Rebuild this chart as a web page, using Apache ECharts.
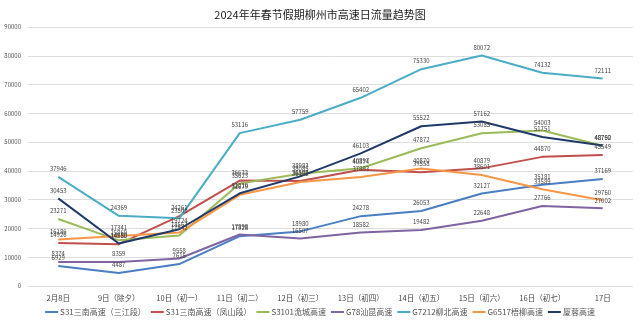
<!DOCTYPE html>
<html>
<head>
<meta charset="utf-8">
<script src="https://cdn.jsdelivr.net/npm/echarts@6/dist/echarts.min.js"></script>
<style>
html,body{margin:0;padding:0;background:#fff;}
#chart{width:640px;height:325px;}
</style>
</head>
<body>
<div id="chart"></div>
<script>
// Daily highway traffic in Liuzhou during the 2024 Spring Festival holiday
const categories = ['2月8日','9日（除夕）','10日（初一）','11日（初二）','12日（初三）','13日（初四）','14日（初五）','15日（初六）','16日（初七）','17日'];

const s31Sanjiang = [6929, 4487, 7615, 17328, 18980, 24278, 26053, 32127, 35181, 37169];
const s31Fengshan = [14926, 14550, 24261, 36633, 36505, 40374, 39558, 40879, 44870, 45549];
const s3101 = [23271, 15869, 17542, 35623, 38983, 40897, 47872, 53085, 54003, 48760];
const g78 = [8374, 8359, 9558, 17898, 16507, 18582, 19482, 22648, 27766, 27002];
const g7212 = [37946, 24369, 23501, 53116, 57759, 65402, 75330, 80072, 74132, 72111];
const g6517 = [16186, 17341, 18563, 31679, 36152, 37893, 40870, 38601, 33589, 29760];
const xiarong = [30453, 14780, 19724, 32210, 38085, 46103, 55522, 57162, 51751, 48792];

const seriesDefs = [
  { name: 'S31三南高速（三江段）', data: s31Sanjiang, color: '#4A7EC2' },
  { name: 'S31三南高速（凤山段）', data: s31Fengshan, color: '#C0504D' },
  { name: 'S3101洈城高速', data: s3101, color: '#9BBB59' },
  { name: 'G78汕昆高速', data: g78, color: '#8064A2' },
  { name: 'G7212柳北高速', data: g7212, color: '#4BACC6' },
  { name: 'G6517梧柳高速', data: g6517, color: '#F79646' },
  { name: '厦蓉高速', data: xiarong, color: '#1F3A68' }
];

const FONT = '"Noto Sans CJK SC", "Noto Sans", sans-serif';

const chart = echarts.init(document.getElementById('chart'), null, { renderer: 'canvas' });
chart.setOption({
  animation: false,
  backgroundColor: '#fff',
  textStyle: { fontFamily: FONT },
  title: {
    text: '2024年年春节假期柳州市高速日流量趋势图',
    left: 'center',
    top: 4,
    textStyle: { fontSize: 11, fontWeight: 'normal', color: '#222', fontFamily: FONT }
  },
  legend: {
    bottom: 4,
    left: 'center',
    icon: 'rect',
    itemWidth: 13,
    itemHeight: 2,
    itemGap: 5,
    textStyle: { fontSize: 8, color: '#555', fontFamily: FONT, padding: [0, 0, 0, -3] },
    data: seriesDefs.map(s => s.name)
  },
  grid: { left: 28, right: 7, top: 27, bottom: 39 },
  xAxis: {
    type: 'category',
    data: categories,
    boundaryGap: true,
    axisLine: { show: false },
    axisTick: { show: false },
    axisLabel: { fontSize: 7.5, color: '#444', margin: 8, interval: 0, fontFamily: FONT }
  },
  yAxis: {
    type: 'value',
    min: 0,
    max: 90000,
    interval: 10000,
    axisLine: { show: false },
    axisTick: { show: false },
    axisLabel: { fontSize: 6, color: '#555', margin: 7, fontFamily: FONT, formatter: v => String(v) },
    splitLine: { lineStyle: { color: '#DDDDDD', width: 1 } }
  },
  series: seriesDefs.map(s => ({
    name: s.name,
    type: 'line',
    data: s.data,
    symbol: 'circle',
    symbolSize: 0.1,
    showSymbol: true,
    lineStyle: { width: 2, color: s.color },
    itemStyle: { color: s.color },
    label: {
      show: true,
      position: 'top',
      distance: 5,
      fontSize: 6,
      color: '#444',
      fontFamily: FONT
    }
  }))
});
</script>
</body>
</html>
